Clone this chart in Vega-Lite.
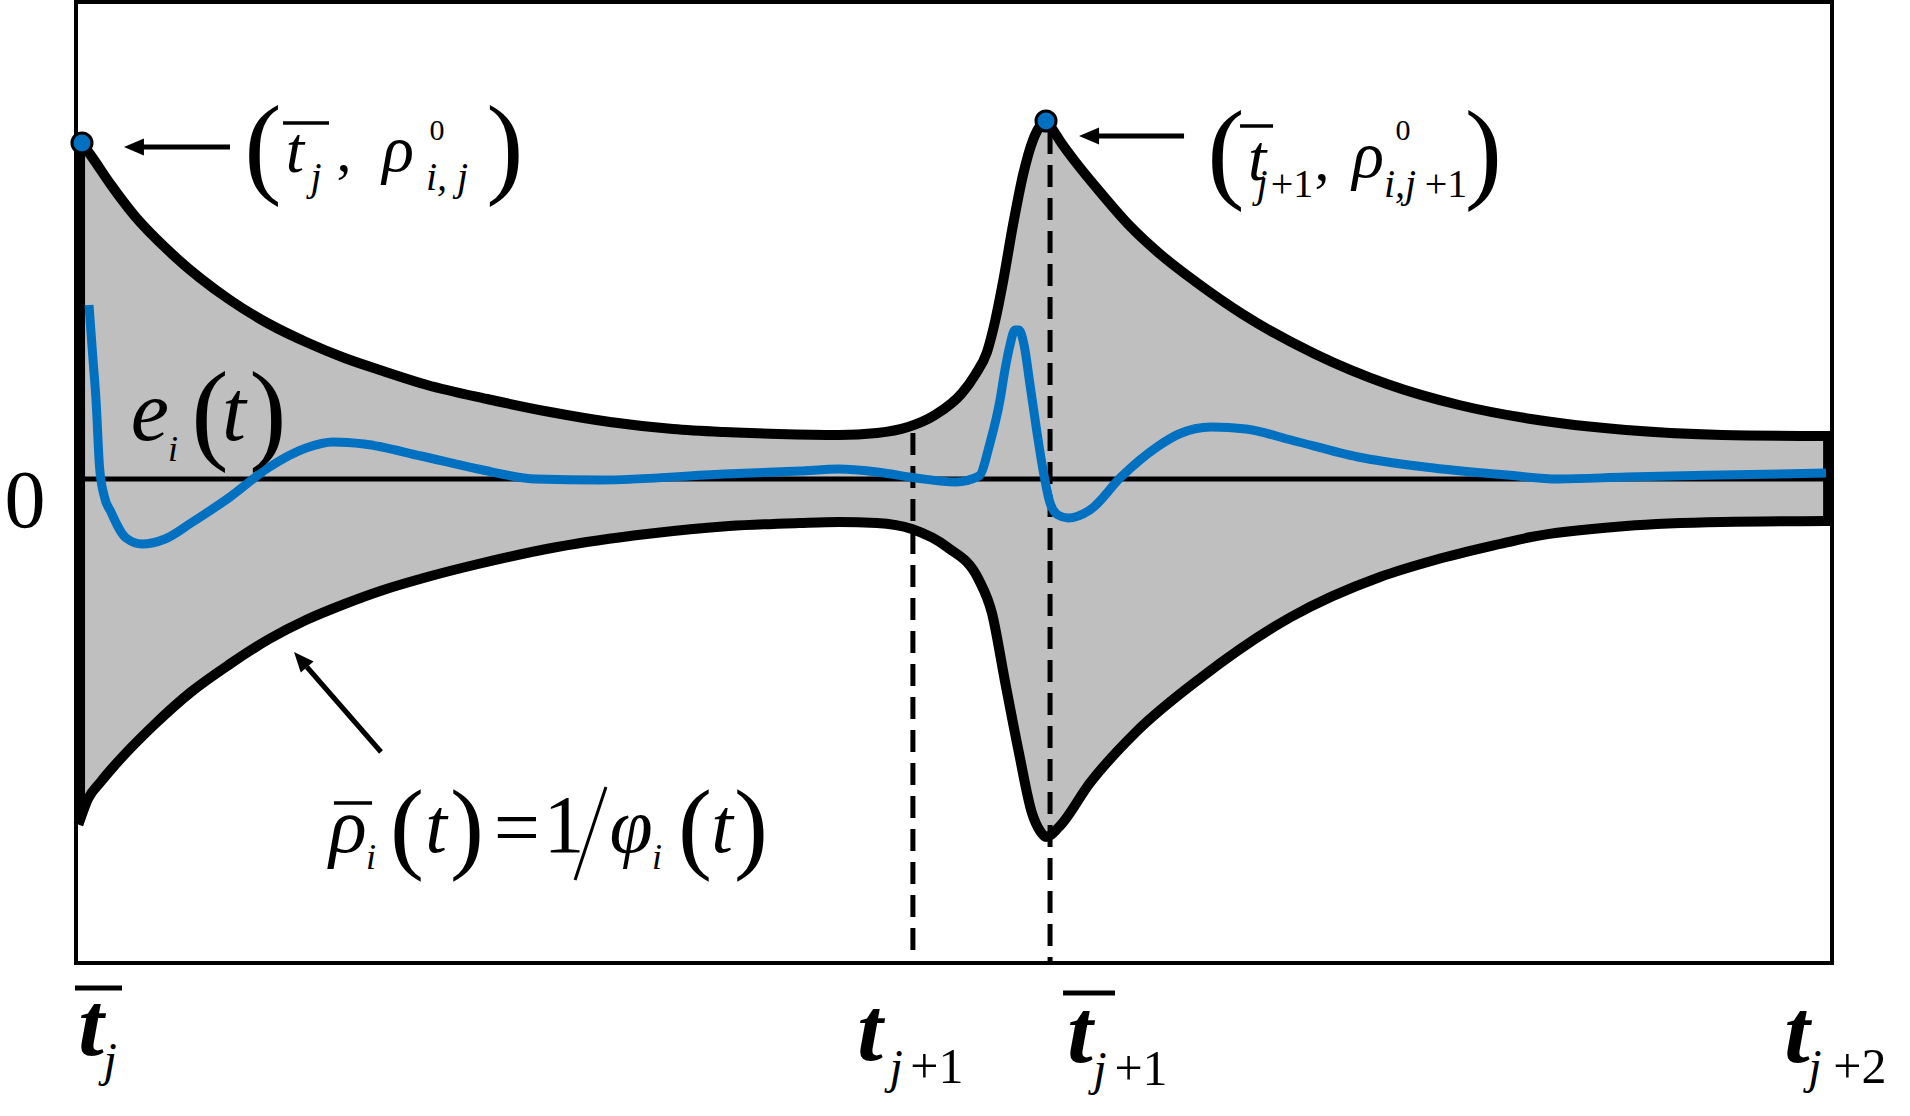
{
  "$schema": "https://vega.github.io/schema/vega-lite/v6.json",
  "autosize": {"type": "none"},
  "padding": {"left": 76, "top": 2, "right": 78, "bottom": 153},
  "width": 1756,
  "height": 961,
  "background": "white",
  "view": {"stroke": "black", "strokeWidth": 4},
  "datasets": {
    "upper": [
      {"t": 0.034, "v": 3.36}, {"t": 0.091, "v": 3.22}, {"t": 0.200, "v": 2.94}, {"t": 0.330, "v": 2.64}, {"t": 0.547, "v": 2.25},
      {"t": 0.877, "v": 1.79}, {"t": 1.100, "v": 1.55}, {"t": 1.310, "v": 1.37}, {"t": 1.530, "v": 1.21},
      {"t": 1.748, "v": 1.08}, {"t": 2.000, "v": 0.94}, {"t": 2.341, "v": 0.80}, {"t": 2.700, "v": 0.67},
      {"t": 3.041, "v": 0.57}, {"t": 3.400, "v": 0.50}, {"t": 3.690, "v": 0.47}, {"t": 4.000, "v": 0.45},
      {"t": 4.345, "v": 0.44}, {"t": 4.561, "v": 0.46}, {"t": 4.738, "v": 0.52}, {"t": 4.892, "v": 0.64},
      {"t": 5.046, "v": 0.86}, {"t": 5.120, "v": 1.04}, {"t": 5.188, "v": 1.27}, {"t": 5.233, "v": 1.57},
      {"t": 5.279, "v": 1.97}, {"t": 5.336, "v": 2.54}, {"t": 5.393, "v": 3.04}, {"t": 5.450, "v": 3.39},
      {"t": 5.490, "v": 3.53}, {"t": 5.524, "v": 3.58}, {"t": 5.564, "v": 3.49}, {"t": 5.604, "v": 3.38},
      {"t": 5.701, "v": 3.15}, {"t": 5.832, "v": 2.87}, {"t": 6.002, "v": 2.53}, {"t": 6.173, "v": 2.25},
      {"t": 6.378, "v": 1.97}, {"t": 6.651, "v": 1.64}, {"t": 7.056, "v": 1.25}, {"t": 7.466, "v": 0.95},
      {"t": 7.876, "v": 0.74}, {"t": 8.286, "v": 0.60}, {"t": 8.827, "v": 0.49}, {"t": 9.374, "v": 0.44},
      {"t": 9.966, "v": 0.43}
    ],
    "lower": [
      {"t": 0.023, "v": -3.41}, {"t": 0.068, "v": -3.20}, {"t": 0.140, "v": -3.03}, {"t": 0.222, "v": -2.86}, {"t": 0.438, "v": -2.47},
      {"t": 0.655, "v": -2.13}, {"t": 0.877, "v": -1.85}, {"t": 1.100, "v": -1.60}, {"t": 1.310, "v": -1.41},
      {"t": 1.530, "v": -1.25}, {"t": 1.750, "v": -1.11}, {"t": 2.000, "v": -0.98}, {"t": 2.290, "v": -0.85},
      {"t": 2.740, "v": -0.68}, {"t": 3.250, "v": -0.55}, {"t": 3.720, "v": -0.47}, {"t": 4.120, "v": -0.44},
      {"t": 4.345, "v": -0.43}, {"t": 4.561, "v": -0.44}, {"t": 4.760, "v": -0.50}, {"t": 4.960, "v": -0.68},
      {"t": 5.142, "v": -1.01}, {"t": 5.216, "v": -1.34}, {"t": 5.290, "v": -2.02}, {"t": 5.370, "v": -2.74},
      {"t": 5.444, "v": -3.34}, {"t": 5.490, "v": -3.52}, {"t": 5.524, "v": -3.58}, {"t": 5.598, "v": -3.48},
      {"t": 5.774, "v": -3.04}, {"t": 6.031, "v": -2.54}, {"t": 6.412, "v": -1.98}, {"t": 6.919, "v": -1.38},
      {"t": 7.426, "v": -0.98}, {"t": 7.739, "v": -0.81}, {"t": 8.109, "v": -0.65}, {"t": 8.286, "v": -0.58},
      {"t": 8.827, "v": -0.47}, {"t": 9.374, "v": -0.43}, {"t": 9.966, "v": -0.42}
    ],
    "error": [
      {"t": 0.074, "v": 1.74}, {"t": 0.097, "v": 1.19}, {"t": 0.114, "v": 0.79}, {"t": 0.134, "v": 0.12},
      {"t": 0.159, "v": -0.16}, {"t": 0.199, "v": -0.33}, {"t": 0.285, "v": -0.59}, {"t": 0.376, "v": -0.65},
      {"t": 0.507, "v": -0.60}, {"t": 0.655, "v": -0.44}, {"t": 0.877, "v": -0.18}, {"t": 1.093, "v": 0.11},
      {"t": 1.310, "v": 0.31}, {"t": 1.464, "v": 0.37}, {"t": 1.640, "v": 0.35}, {"t": 1.965, "v": 0.23},
      {"t": 2.289, "v": 0.10}, {"t": 2.620, "v": 0.00}, {"t": 2.984, "v": -0.01}, {"t": 3.690, "v": 0.05},
      {"t": 4.123, "v": 0.08}, {"t": 4.345, "v": 0.10}, {"t": 4.561, "v": 0.07}, {"t": 4.784, "v": 0.01},
      {"t": 5.011, "v": -0.03}, {"t": 5.142, "v": 0.03}, {"t": 5.205, "v": 0.36}, {"t": 5.262, "v": 0.79},
      {"t": 5.290, "v": 1.09}, {"t": 5.319, "v": 1.34}, {"t": 5.347, "v": 1.49}, {"t": 5.370, "v": 1.49},
      {"t": 5.399, "v": 1.34}, {"t": 5.433, "v": 0.94}, {"t": 5.473, "v": 0.46}, {"t": 5.507, "v": 0.09},
      {"t": 5.547, "v": -0.24}, {"t": 5.592, "v": -0.36}, {"t": 5.649, "v": -0.39}, {"t": 5.774, "v": -0.31},
      {"t": 5.951, "v": 0.02}, {"t": 6.156, "v": 0.32}, {"t": 6.281, "v": 0.45}, {"t": 6.464, "v": 0.52},
      {"t": 6.663, "v": 0.50}, {"t": 6.919, "v": 0.39}, {"t": 7.301, "v": 0.22}, {"t": 7.682, "v": 0.12},
      {"t": 8.149, "v": 0.04}, {"t": 8.445, "v": 0.00}, {"t": 8.827, "v": 0.02}, {"t": 9.374, "v": 0.04},
      {"t": 9.966, "v": 0.06}
    ]
  },
  "encoding": {
    "x": {"field": "t", "type": "quantitative", "scale": {"domain": [0, 10], "nice": false, "zero": false}, "axis": null},
    "y": {"field": "v", "type": "quantitative", "scale": {"domain": [-4.84, 4.77], "nice": false, "zero": false}, "axis": null}
  },
  "layer": [
    {"data": {"name": "upper"}, "mark": {"type": "area", "color": "#bfbfbf", "interpolate": "monotone", "opacity": 1}, "encoding": {"y2": {"datum": 0}}},
    {"data": {"name": "lower"}, "mark": {"type": "area", "color": "#bfbfbf", "interpolate": "monotone", "opacity": 1}, "encoding": {"y2": {"datum": 0}}},
    {"data": {"values": [{"t": 0, "t2": 10, "v": 0}]}, "mark": {"type": "rule", "color": "black", "strokeWidth": 5}, "encoding": {"x2": {"field": "t2"}}},
    {"data": {"values": [{"t": 4.766, "v": 0.46, "v2": -4.84}, {"t": 5.547, "v": 3.47, "v2": -4.84}]}, "mark": {"type": "rule", "color": "black", "strokeWidth": 5, "strokeDash": [22, 11]}, "encoding": {"y2": {"field": "v2"}}},
    {"data": {"name": "upper"}, "mark": {"type": "line", "color": "black", "strokeWidth": 10, "interpolate": "monotone", "strokeCap": "square"}},
    {"data": {"name": "lower"}, "mark": {"type": "line", "color": "black", "strokeWidth": 10, "interpolate": "monotone", "strokeCap": "square"}},
    {"data": {"values": [{"t": 0.026, "v": 3.36, "v2": -3.41}, {"t": 9.975, "v": 0.43, "v2": -0.42}]}, "mark": {"type": "rule", "color": "black", "strokeWidth": 9}, "encoding": {"y2": {"field": "v2"}}},
    {"data": {"name": "error"}, "mark": {"type": "line", "color": "#0070c0", "strokeWidth": 9, "interpolate": "monotone"}},
    {"data": {"values": [{"t": 0.034, "v": 3.36}, {"t": 5.524, "v": 3.58}]}, "mark": {"type": "point", "shape": "circle", "filled": true, "fill": "#0070c0", "stroke": "black", "strokeWidth": 3, "size": 400, "opacity": 1}},
    {"data": {"values": [{"t": 0.877, "v": 3.32, "t2": 0.38, "v2": 3.32}, {"t": 6.310, "v": 3.43, "t2": 5.82, "v2": 3.43}, {"t": 1.737, "v": -2.73, "t2": 1.315, "v2": -1.88}]}, "mark": {"type": "rule", "color": "black", "strokeWidth": 5}, "encoding": {"x2": {"field": "t2"}, "y2": {"field": "v2"}}},
    {"data": {"values": [{"t": 0.330, "v": 3.32}, {"t": 5.769, "v": 3.43}]}, "mark": {"type": "point", "shape": "M-1,0L1,-0.85L1,0.85Z", "size": 400, "filled": true, "color": "black", "strokeWidth": 0, "opacity": 1}},
    {"data": {"values": [{"t": 1.279, "v": -1.805}]}, "mark": {"type": "point", "shape": "M-1,0L1,-0.85L1,0.85Z", "size": 400, "angle": 49, "filled": true, "color": "black", "strokeWidth": 0, "opacity": 1}},
    {"data": {"values": [{"t": 1.179, "t2": 1.441, "v": 3.56}, {"t": 6.629, "t2": 6.817, "v": 3.53}, {"t": 1.469, "t2": 1.686, "v": -3.24}]}, "mark": {"type": "rule", "color": "black", "strokeWidth": 3.5}, "encoding": {"x2": {"field": "t2"}}},
    {"data": {"values": [{"t": -0.006, "t2": 0.262, "v": -5.09}, {"t": 5.621, "t2": 5.917, "v": -5.14}]}, "mark": {"type": "rule", "color": "black", "strokeWidth": 5}, "encoding": {"x2": {"field": "t2"}}},
    {"data": {"values": [{"t": 3.018, "v": -3.08, "t2": 2.842, "v2": -4.01}]}, "mark": {"type": "rule", "color": "black", "strokeWidth": 3}, "encoding": {"x2": {"field": "t2"}, "y2": {"field": "v2"}}},
    {"data": {"values": [{"s": "(", "t": 1.065, "v": 2.96}, {"s": ")", "t": 2.443, "v": 2.96}, {"s": "(", "t": 6.549, "v": 2.91}, {"s": ")", "t": 8.015, "v": 2.91}, {"s": "(", "t": 0.763, "v": 0.30}, {"s": ")", "t": 1.093, "v": 0.30}]},
     "mark": {"type": "text", "font": "Liberation Serif", "fontSize": 112, "align": "center", "baseline": "alphabetic", "color": "black"}, "encoding": {"text": {"field": "s"}}},
    {"data": {"values": [{"s": "(", "t": 1.885, "v": -3.81}, {"s": ")", "t": 2.227, "v": -3.81}, {"s": "(", "t": 3.525, "v": -3.81}, {"s": ")", "t": 3.844, "v": -3.81}]},
     "mark": {"type": "text", "font": "Liberation Serif", "fontSize": 102, "align": "center", "baseline": "alphabetic", "color": "black"}, "encoding": {"text": {"field": "s"}}},
    {"data": {"values": [{"s": "t", "t": 1.247, "v": 3.07}, {"s": "ρ", "t": 1.834, "v": 3.08}, {"s": "t", "t": 6.726, "v": 2.99}, {"s": "ρ", "t": 7.358, "v": 3.02}]},
     "mark": {"type": "text", "font": "Liberation Serif", "fontSize": 66, "fontStyle": "italic", "align": "center", "baseline": "alphabetic", "color": "black"}, "encoding": {"text": {"field": "s"}}},
    {"data": {"values": [{"s": ",", "t": 1.526, "v": 3.08}, {"s": ",", "t": 7.096, "v": 2.99}]},
     "mark": {"type": "text", "font": "Liberation Serif", "fontSize": 60, "align": "center", "baseline": "alphabetic", "color": "black"}, "encoding": {"text": {"field": "s"}}},
    {"data": {"values": [{"s": "j", "t": 1.367, "v": 2.89}, {"s": "i, j", "t": 2.113, "v": 2.89}, {"s": "j", "t": 6.754, "v": 2.82}, {"s": "i,j", "t": 7.540, "v": 2.82}]},
     "mark": {"type": "text", "font": "Liberation Serif", "fontSize": 40, "fontStyle": "italic", "align": "center", "baseline": "alphabetic", "color": "black"}, "encoding": {"text": {"field": "s"}}},
    {"data": {"values": [{"s": "+1", "t": 6.925, "v": 2.82}, {"s": "+1", "t": 7.802, "v": 2.82}]},
     "mark": {"type": "text", "font": "Liberation Serif", "fontSize": 40, "align": "center", "baseline": "alphabetic", "color": "black"}, "encoding": {"text": {"field": "s"}}},
    {"data": {"values": [{"s": "0", "t": 2.056, "v": 3.39}, {"s": "0", "t": 7.557, "v": 3.39}]},
     "mark": {"type": "text", "font": "Liberation Serif", "fontSize": 30, "align": "center", "baseline": "alphabetic", "color": "black"}, "encoding": {"text": {"field": "s"}}},
    {"data": {"values": [{"s": "e", "t": 0.421, "v": 0.39}, {"s": "t", "t": 0.900, "v": 0.39}]},
     "mark": {"type": "text", "font": "Liberation Serif", "fontSize": 86, "fontStyle": "italic", "align": "center", "baseline": "alphabetic", "color": "black"}, "encoding": {"text": {"field": "s"}}},
    {"data": {"values": [{"s": "i", "t": 0.552, "v": 0.18}, {"s": "i", "t": 1.680, "v": -3.90}, {"s": "i", "t": 3.309, "v": -3.90}]},
     "mark": {"type": "text", "font": "Liberation Serif", "fontSize": 36, "fontStyle": "italic", "align": "center", "baseline": "alphabetic", "color": "black"}, "encoding": {"text": {"field": "s"}}},
    {"data": {"values": [{"s": "ρ", "t": 1.549, "v": -3.73}, {"s": "t", "t": 2.050, "v": -3.73}, {"s": "φ", "t": 3.161, "v": -3.73}, {"s": "t", "t": 3.679, "v": -3.73}]},
     "mark": {"type": "text", "font": "Liberation Serif", "fontSize": 78, "fontStyle": "italic", "align": "center", "baseline": "alphabetic", "color": "black"}, "encoding": {"text": {"field": "s"}}},
    {"data": {"values": [{"s": "=", "t": 2.511, "v": -3.76}, {"s": "1", "t": 2.779, "v": -3.73}, {"s": "0", "t": -0.290, "v": -0.48}]},
     "mark": {"type": "text", "font": "Liberation Serif", "fontSize": 82, "align": "center", "baseline": "alphabetic", "color": "black"}, "encoding": {"text": {"field": "s"}}},
    {"data": {"values": [{"s": "t", "t": 0.085, "v": -5.76}, {"s": "t", "t": 4.522, "v": -5.81}, {"s": "t", "t": 5.718, "v": -5.83}, {"s": "t", "t": 9.801, "v": -5.83}]},
     "mark": {"type": "text", "font": "Liberation Serif", "fontSize": 92, "fontStyle": "italic", "fontWeight": "bold", "align": "center", "baseline": "alphabetic", "color": "black"}, "encoding": {"text": {"field": "s"}}},
    {"data": {"values": [{"s": "j", "t": 0.194, "v": -5.97}, {"s": "j", "t": 4.670, "v": -6.04}, {"s": "j", "t": 5.831, "v": -6.06}, {"s": "j", "t": 9.903, "v": -6.04}]},
     "mark": {"type": "text", "font": "Liberation Serif", "fontSize": 48, "fontStyle": "italic", "align": "center", "baseline": "alphabetic", "color": "black"}, "encoding": {"text": {"field": "s"}}},
    {"data": {"values": [{"s": "+1", "t": 4.903, "v": -6.04}, {"s": "+1", "t": 6.065, "v": -6.06}, {"s": "+2", "t": 10.159, "v": -6.04}]},
     "mark": {"type": "text", "font": "Liberation Serif", "fontSize": 50, "align": "center", "baseline": "alphabetic", "color": "black"}, "encoding": {"text": {"field": "s"}}}
  ]
}
